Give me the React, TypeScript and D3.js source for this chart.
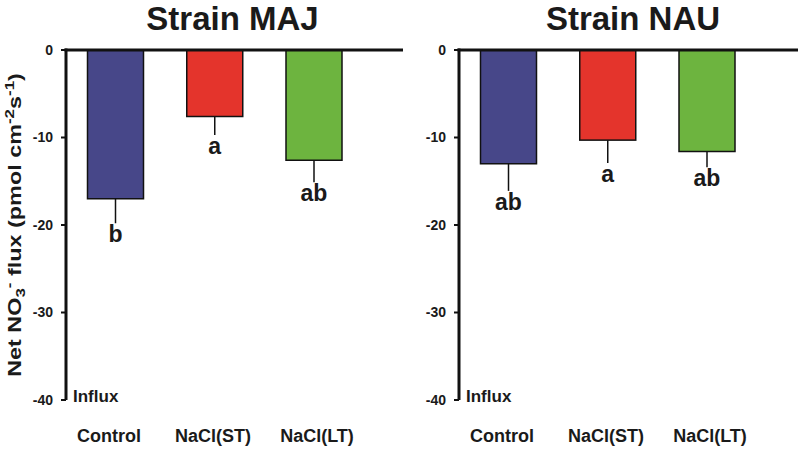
import React from "react";
import * as d3 from "d3";

const categories = ["Control", "NaCl(ST)", "NaCl(LT)"];
const panelTitles = ["Strain MAJ", "Strain NAU"];
const majMeans = [-17.0, -7.6, -12.6];
const majSE = [2.8, 2.1, 2.5];
const majLetters = ["b", "a", "ab"];
const nauMeans = [-13.0, -10.3, -11.6];
const nauSE = [3.1, 2.6, 1.8];
const nauLetters = ["ab", "a", "ab"];
const yTicks = [0, -10, -20, -30, -40];
const barColors = ["#474789", "#e4342c", "#6db43f"];

const W = 798;
const H = 451;
const FONT = "'Liberation Sans', Arial, Helvetica, sans-serif";
const NARROW = "'Liberation Sans Narrow', 'Arial Narrow', 'Liberation Sans', Arial, sans-serif";

const y = d3.scaleLinear().domain([-40, 0]).range([400, 50]);

type PanelProps = {
  axisX: number;
  endX: number;
  title: string;
  titleX: number;
  means: number[];
  se: number[];
  letters: string[];
};

function Panel({ axisX, endX, title, titleX, means, se, letters }: PanelProps) {
  const xBar = d3.scalePoint<string>().domain(categories).range([axisX + 49.5, axisX + 248]);
  const xLab = d3.scalePoint<string>().domain(categories).range([axisX + 43, axisX + 251]);
  const bw = 56;
  return (
    <g>
      <text x={titleX} y={30} textAnchor="middle" fontFamily={FONT} fontWeight="bold" fontSize={33} fill="#1a1a1a">
        {title}
      </text>
      {categories.map((c, i) => {
        const cx = xBar(c)!;
        const yb = y(means[i]);
        const ye = y(means[i] - se[i]);
        return (
          <g key={c}>
            <rect x={cx - bw / 2} y={y(0)} width={bw} height={yb - y(0)} fill={barColors[i]} stroke="#111" strokeWidth={1.5} />
            <line x1={cx} x2={cx} y1={yb} y2={ye} stroke="#111" strokeWidth={1.5} />
            <text x={cx} y={ye + 19} textAnchor="middle" fontFamily={FONT} fontWeight="bold" fontSize={23} fill="#1a1a1a">
              {letters[i]}
            </text>
            <text x={xLab(c)!} y={442} textAnchor="middle" fontFamily={FONT} fontWeight="bold" fontSize={18} fill="#1a1a1a">
              {c}
            </text>
          </g>
        );
      })}
      {yTicks.map((t) => (
        <g key={t}>
          <line x1={axisX - 5} x2={axisX} y1={y(t)} y2={y(t)} stroke="#111" strokeWidth={2} />
          <text x={axisX - 13} y={y(t)} dy="0.35em" textAnchor="end" fontFamily={FONT} fontWeight="bold" fontSize={14} fill="#1a1a1a">
            {t}
          </text>
        </g>
      ))}
      <line x1={axisX} x2={axisX} y1={y(0) - 1.5} y2={y(-40)} stroke="#111" strokeWidth={3} />
      <line x1={axisX - 1.5} x2={endX} y1={y(0)} y2={y(0)} stroke="#111" strokeWidth={3} />
      <text x={axisX + 7} y={y(-40) + 2} fontFamily={NARROW} fontWeight="bold" fontSize={17} fill="#1a1a1a">
        Influx
      </text>
    </g>
  );
}

export default function App() {
  return (
    <svg width={W} height={H} style={{ position: "absolute", left: 0, top: 0, background: "#fff" }}>
      <rect width={W} height={H} fill="#fff" />
      <Panel axisX={66} endX={403} title={panelTitles[0]} titleX={232.5} means={majMeans} se={majSE} letters={majLetters} />
      <Panel axisX={459} endX={798} title={panelTitles[1]} titleX={633} means={nauMeans} se={nauSE} letters={nauLetters} />
      <g transform={`translate(21,225) rotate(-90) scale(1.3,1)`}>
        <text textAnchor="middle" fontFamily={FONT} fontWeight="bold" fontSize={18} fill="#1a1a1a">
          <tspan>Net NO</tspan>
          <tspan fontSize={13} dy={4}>3</tspan>
          <tspan fontSize={13} dy={-11}>-</tspan>
          <tspan dy={7}> flux (pmol cm</tspan>
          <tspan fontSize={13} dy={-7}>-2</tspan>
          <tspan dy={7}>s</tspan>
          <tspan fontSize={13} dy={-7}>-1</tspan>
          <tspan dy={7}>)</tspan>
        </text>
      </g>
    </svg>
  );
}
